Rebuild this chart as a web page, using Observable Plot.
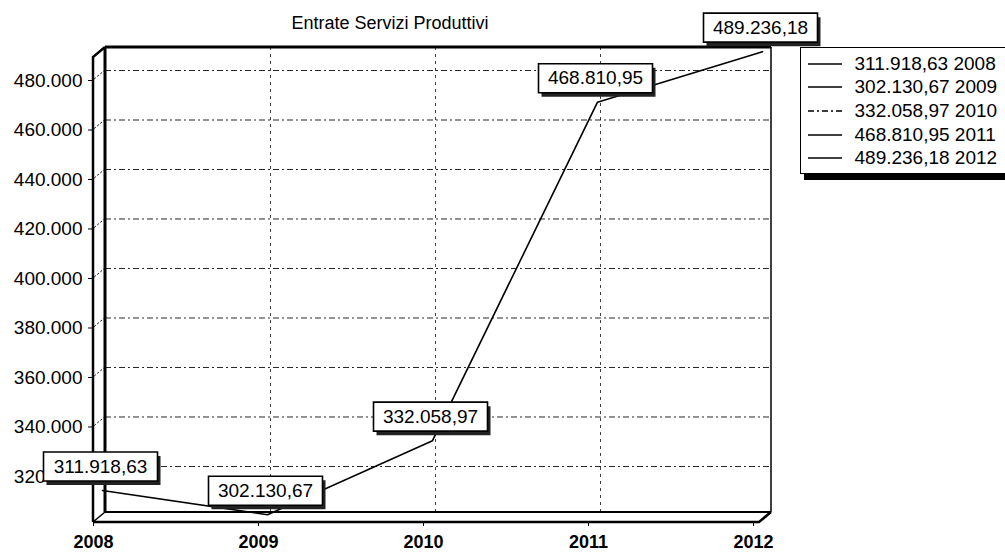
<!DOCTYPE html>
<html><head><meta charset="utf-8">
<script src="https://cdn.jsdelivr.net/npm/d3@7"></script>
<script src="https://cdn.jsdelivr.net/npm/@observablehq/plot@0.6"></script>
<style>
body{margin:0;background:#fff;overflow:hidden;font-family:"Liberation Sans",Arial,sans-serif;color:#000;}
#wrap{position:relative;width:1005px;height:556px;}
#chart{position:absolute;left:0;top:0;}
#title{position:absolute;left:0;width:780px;top:14px;line-height:18px;text-align:center;font-size:18px;}
#legend{position:absolute;left:800px;top:47px;width:230px;height:127px;border:1.5px solid #000;background:#fff;box-shadow:4px 6px 0 #000;padding-top:4px;box-sizing:border-box;}
#legend .row{height:23.6px;display:flex;align-items:center;font-size:19px;white-space:nowrap;}
#legend svg{margin-left:6.5px;margin-right:13px;}
</style></head><body>
<div id="wrap"><div id="chart"></div><div id="title">Entrate Servizi Produttivi</div><div id="legend"></div></div>
<script>
const years = [2008, 2009, 2010, 2011, 2012];
const values = [311918.63, 302130.67, 332058.97, 468810.95, 489236.18];
const yTicks = [320000, 340000, 360000, 380000, 400000, 420000, 440000, 460000, 480000];
const gridYears = [2009, 2010, 2011];
const yDomain = [301414, 489293];

const loc = d3.formatLocale({decimal: ",", thousands: ".", grouping: [3], currency: ["", ""]});
const fmt0 = loc.format(",.0f");
const fmt2 = loc.format(",.2f");
const data = years.map((year, i) => ({year, value: values[i]}));

const depth = {x: -12, y: 10};
const boxSym = {draw(ctx) { ctx.moveTo(-57, -14.5); ctx.lineTo(57, -14.5); ctx.lineTo(57, 14.5); ctx.lineTo(-57, 14.5); ctx.closePath(); }};

function walls(index, scales, vals, dim) {
  const L = dim.marginLeft, R = dim.width - dim.marginRight, T = dim.marginTop, B = dim.height - dim.marginBottom;
  const g = d3.create("svg:g").attr("fill", "none").attr("stroke", "#000");
  g.append("path").attr("d", `M${L},${T}L${L+depth.x},${T+depth.y}L${L+depth.x},${B+depth.y}L${L},${B}Z`).attr("fill", "#fff").attr("stroke", "none");
  for (const t of yTicks) {
    const y = scales.y(t);
    g.append("line").attr("x1", L).attr("y1", y).attr("x2", L + depth.x).attr("y2", y + depth.y)
      .attr("stroke-width", 1).attr("stroke-dasharray", "2,2");
  }
  g.append("path").attr("d", `M${L},${T}L${L+depth.x},${T+depth.y}L${L+depth.x},${B+depth.y}`).attr("stroke-width", 2.5);
  g.append("path").attr("d", `M${L+depth.x},${B+depth.y}L${R+depth.x},${B+depth.y}L${R},${B}`).attr("stroke-width", 2.5);
  g.append("path").attr("d", `M${L},${B}L${L+depth.x},${B+depth.y}`).attr("stroke-width", 1.5);
  g.append("line").attr("x1", L).attr("x2", L).attr("y1", T).attr("y2", B).attr("stroke-width", 3);
  g.append("line").attr("x1", L).attr("x2", R).attr("y1", T).attr("y2", T).attr("stroke-width", 3);
  g.append("line").attr("x1", R).attr("x2", R).attr("y1", T).attr("y2", B).attr("stroke-width", 1.5);
  g.append("line").attr("x1", L).attr("x2", R).attr("y1", B).attr("y2", B).attr("stroke-width", 2);
  return g.node();
}

const chart = Plot.plot({
  width: 1005, height: 556,
  marginLeft: 105, marginRight: 234, marginTop: 47, marginBottom: 44,
  style: {fontFamily: '"Liberation Sans", Arial, sans-serif', fontSize: "18px", color: "#000", background: "transparent", overflow: "visible"},
  x: {domain: [2008, 2012], insetRight: 6},
  y: {domain: yDomain},
  marks: [
    Plot.gridY({ticks: yTicks, stroke: "#000", strokeOpacity: 0.85, strokeWidth: 1, strokeDasharray: "6,3,2,3"}),
    Plot.gridX({ticks: gridYears, stroke: "#000", strokeOpacity: 0.75, strokeWidth: 1, strokeDasharray: "3,4"}),
    walls,
    Plot.axisY({ticks: yTicks, tickFormat: fmt0, tickSize: 5, tickPadding: 6, dx: depth.x, dy: depth.y, fontSize: 19, label: null, stroke: "#000"}),
    Plot.axisX({ticks: years, tickFormat: d => String(d), tickSize: 4, tickPadding: 9, dx: depth.x, dy: depth.y, fontSize: 18, fontWeight: "bold", label: null}),
    Plot.line(data, {x: "year", y: "value", stroke: "#000", strokeWidth: 1.6, dx: -3, dy: 4}),
    Plot.dot(data, {x: "year", y: "value", symbol: boxSym, fill: "#222", stroke: null, dx: -2, dy: -16}),
    Plot.dot(data, {x: "year", y: "value", symbol: boxSym, fill: "#fff", stroke: "#000", strokeWidth: 1.6, dx: -5, dy: -20}),
    Plot.text(data, {x: "year", y: "value", text: d => fmt2(d.value), dx: -5, dy: -20, fontSize: 19, fill: "#000"})
  ]
});
document.getElementById("chart").appendChild(chart);

const legend = d3.select("#legend");
years.forEach((y, i) => {
  const row = legend.append("div").attr("class", "row");
  const s = row.append("svg").attr("width", 34).attr("height", 6);
  s.append("line").attr("x1", 0).attr("x2", 34).attr("y1", 3).attr("y2", 3)
    .attr("stroke", "#000").attr("stroke-width", 1.6)
    .attr("stroke-dasharray", y === 2010 ? "6,3,2,3" : null);
  row.append("span").text(fmt2(values[i]) + " " + y);
});
</script>
</body></html>
